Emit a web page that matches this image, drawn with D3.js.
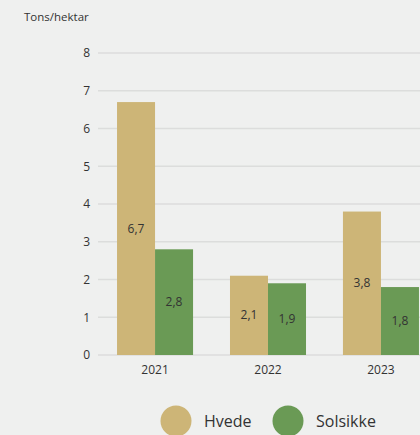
<!DOCTYPE html>
<html><head><meta charset="utf-8">
<script src="https://cdn.jsdelivr.net/npm/d3@7"></script>
<style>html,body{margin:0;padding:0;background:#eff0ef;overflow:hidden}svg{display:block}</style>
</head><body>
<script>
const categories = ["2021", "2022", "2023"];
const seriesNames = ["Hvede", "Solsikke"];
const hvede = [6.7, 2.1, 3.8];
const solsikke = [2.8, 1.9, 1.8];
const yTicks = [0, 1, 2, 3, 4, 5, 6, 7, 8];
const colors = ["#cdb577", "#6a9a55"];
const unitLabel = "Tons/hektar";

const W = 420, H = 435;
const svg = d3.select("body").append("svg").attr("width", W).attr("height", H);
const font = "'Open Sans', sans-serif";

const y = d3.scaleLinear().domain([0, 8]).range([355, 53]);
const x = d3.scaleBand().domain(categories).range([98.5, 437.5]).paddingInner(0.327).paddingOuter(0.164);
const x1 = d3.scaleBand().domain(seriesNames).range([0, x.bandwidth()]);

svg.append("text").attr("x", 24).attr("y", 21).attr("font-family", font).attr("font-size", 11.5)
  .attr("fill", "#333").text(unitLabel);

const grid = svg.append("g");
grid.selectAll("line").data(yTicks).join("line")
  .attr("x1", 98).attr("x2", W).attr("y1", d => y(d)).attr("y2", d => y(d))
  .attr("stroke", "#dcdddc").attr("stroke-width", 1.5);
const yAxis = d3.axisLeft(y).tickValues(yTicks).tickSize(0).tickPadding(0).tickFormat(d3.format("d"));
const ya = svg.append("g").attr("transform", "translate(90,0)").call(yAxis);
ya.select(".domain").remove();
ya.selectAll("text").attr("font-family", font).attr("font-size", 12).attr("fill", "#333");

const data = categories.map((c, i) => ({c, vals: [hvede[i], solsikke[i]]}));
const fmt = v => String(v.toFixed(1)).replace(".", ",");
const g = svg.append("g").selectAll("g").data(data).join("g").attr("transform", d => `translate(${x(d.c)},0)`);
g.selectAll("rect").data(d => d.vals.map((v, k) => ({v, k}))).join("rect")
  .attr("x", d => x1(seriesNames[d.k])).attr("width", x1.bandwidth())
  .attr("y", d => y(d.v)).attr("height", d => y(0) - y(d.v)).attr("fill", d => colors[d.k]);
g.selectAll("text").data(d => d.vals.map((v, k) => ({v, k}))).join("text")
  .attr("x", d => x1(seriesNames[d.k]) + x1.bandwidth() / 2)
  .attr("y", d => (y(d.v) + y(0)) / 2 + 4)
  .attr("text-anchor", "middle").attr("font-family", font).attr("font-size", 12).attr("fill", "#333")
  .text(d => fmt(d.v));

const xAxis = d3.axisBottom(x).tickSize(0).tickPadding(0);
const xa = svg.append("g").attr("transform", "translate(0,374)").call(xAxis);
xa.select(".domain").remove();
xa.selectAll("text").attr("font-family", font).attr("font-size", 12).attr("fill", "#333").attr("dy", 0);

const legendX = [176, 288];
const lg = svg.append("g").selectAll("g").data(seriesNames).join("g")
  .attr("transform", (d, i) => `translate(${legendX[i]},421)`);
lg.append("circle").attr("r", 15.5).attr("fill", (d, i) => colors[i]);
lg.append("text").attr("x", 28).attr("y", 6).attr("font-family", font).attr("font-size", 16)
  .attr("fill", "#333").text(d => d);
</script>
</body></html>
